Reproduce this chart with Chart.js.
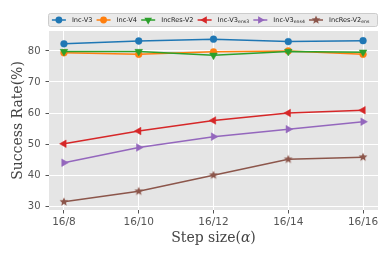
<!DOCTYPE html>
<html>
<head>
<meta charset="utf-8">
<script src="https://cdn.jsdelivr.net/npm/chart.js@4.4.1/dist/chart.umd.min.js"></script>
<style>
  html, body { margin: 0; padding: 0; background: #fff; }
</style>
</head>
<body>
<canvas id="stepChart" width="390" height="260"></canvas>
<script>
// step sizes on the x axis
const steps = ['16/8', '16/10', '16/12', '16/14', '16/16'];

// success rates (%)
const incV3 = [82.3, 83.2, 83.8, 83.0, 83.3];
const incV4 = [79.4, 78.9, 79.7, 80.0, 78.9];
const incResV2 = [79.8, 79.8, 78.6, 79.8, 79.6];
const incV3ens3 = [50.1, 54.2, 57.6, 60.0, 60.9];
const incV3ens4 = [44.0, 48.9, 52.4, 54.8, 57.2];
const incResV2ens = [31.4, 34.8, 40.0, 45.1, 45.8];

const yTicks = [30, 40, 50, 60, 70, 80];

// legend text: name + subscript
const seriesNames = ['Inc-V3', 'Inc-V4', 'IncRes-V2', 'Inc-V3', 'Inc-V3', 'IncRes-V2'];
const seriesSubs = ['', '', '', 'ens3', 'ens4', 'ens'];

const colors = ['#1f77b4', '#ff7f0e', '#2ca02c', '#d62728', '#9467bd', '#8c564b'];

function starImage(color, r) {
  const c = document.createElement('canvas');
  const s = Math.ceil(r * 2 + 2);
  c.width = s;
  c.height = s;
  const g = c.getContext('2d');
  g.fillStyle = color;
  g.beginPath();
  for (let i = 0; i < 10; i++) {
    const rr = i % 2 ? r * 0.45 : r;
    const a = -Math.PI / 2 + i * Math.PI / 5;
    g.lineTo(s / 2 + rr * Math.cos(a), s / 2 + rr * Math.sin(a));
  }
  g.closePath();
  g.fill();
  return c;
}

const star = starImage(colors[5], 4.6);

// marker style per series: [pointStyle, rotation, radius]
const markers = [
  ['circle', 0, 3.4],
  ['circle', 0, 3.4],
  ['triangle', 180, 4.4],
  ['triangle', -90, 4.4],
  ['triangle', 90, 4.4],
  [star, 0, 4.6]
];

const allSeries = [incV3, incV4, incResV2, incV3ens3, incV3ens4, incResV2ens];

// matplotlib-style 5% margins
const allVals = allSeries.flat();
const vMin = Math.min(...allVals), vMax = Math.max(...allVals);
const yPad = (vMax - vMin) * 0.05;
const xPad = (steps.length - 1) * 0.05;

const datasets = allSeries.map((vals, i) => ({
  label: seriesNames[i] + seriesSubs[i],
  data: vals.map((v, j) => ({ x: j, y: v })),
  borderColor: colors[i],
  backgroundColor: colors[i],
  borderWidth: 1.5,
  tension: 0,
  fill: false,
  pointStyle: markers[i][0],
  rotation: markers[i][1],
  pointRadius: markers[i][2],
  pointBackgroundColor: colors[i],
  pointBorderColor: colors[i],
  pointBorderWidth: 0.5,
  order: allSeries.length - i
}));

function drawMarker(ctx, i, x, y) {
  const [style, rot, r] = markers[i];
  ctx.fillStyle = colors[i];
  if (style === 'circle') {
    ctx.beginPath();
    ctx.arc(x, y, r, 0, Math.PI * 2);
    ctx.fill();
  } else if (style === 'triangle') {
    ctx.save();
    ctx.translate(x, y);
    ctx.rotate(rot * Math.PI / 180);
    ctx.beginPath();
    for (let k = 0; k < 3; k++) {
      const a = -Math.PI / 2 + k * 2 * Math.PI / 3;
      ctx.lineTo(r * Math.cos(a), r * Math.sin(a));
    }
    ctx.closePath();
    ctx.fill();
    ctx.restore();
  } else {
    ctx.drawImage(style, x - style.width / 2, y - style.height / 2);
  }
}

const panelBg = {
  id: 'panelBg',
  beforeDraw(chart) {
    const { ctx, chartArea: a } = chart;
    ctx.save();
    ctx.fillStyle = '#E5E5E5';
    ctx.fillRect(a.left, a.top, a.right - a.left, a.bottom - a.top);
    ctx.restore();
  }
};

// x title with an italic alpha, like matplotlib mathtext
const xTitle = {
  id: 'xTitle',
  afterDraw(chart) {
    const ctx = chart.ctx;
    const a = chart.chartArea;
    const parts = [['Step size(', ''], ['α', 'italic '], [')', '']];
    ctx.save();
    ctx.fillStyle = '#444';
    ctx.textBaseline = 'alphabetic';
    ctx.textAlign = 'left';
    let total = 0;
    for (const [t, st] of parts) {
      ctx.font = st + '14px "DejaVu Serif"';
      total += ctx.measureText(t).width;
    }
    let x = (a.left + a.right) / 2 - total / 2;
    for (const [t, st] of parts) {
      ctx.font = st + '14px "DejaVu Serif"';
      ctx.fillText(t, x, 241.5);
      x += ctx.measureText(t).width;
    }
    ctx.restore();
  }
};

const topLegend = {
  id: 'topLegend',
  afterDraw(chart) {
    const ctx = chart.ctx;
    const a = chart.chartArea;
    const boxL = a.left - 0.5, boxR = a.right - 0.5, boxT = 13.5, boxB = 26.5;
    const midY = (boxT + boxB) / 2;
    ctx.save();
    ctx.fillStyle = '#EAEAEA';
    ctx.strokeStyle = '#CCCCCC';
    ctx.lineWidth = 1;
    ctx.beginPath();
    ctx.roundRect(boxL, boxT, boxR - boxL, boxB - boxT, 2);
    ctx.fill();
    ctx.stroke();

    const mainFont = '6.6px "DejaVu Sans"';
    const subFont = '4.6px "DejaVu Sans"';
    let x = boxL + 3.4;
    ctx.textBaseline = 'middle';
    ctx.textAlign = 'left';
    for (let i = 0; i < seriesNames.length; i++) {
      ctx.strokeStyle = colors[i];
      ctx.lineWidth = 1.5;
      ctx.beginPath();
      ctx.moveTo(x, midY);
      ctx.lineTo(x + 14, midY);
      ctx.stroke();
      drawMarker(ctx, i, x + 7, midY);
      const tx = x + 20;
      ctx.fillStyle = '#222';
      ctx.font = mainFont;
      ctx.fillText(seriesNames[i], tx, midY);
      let w = ctx.measureText(seriesNames[i]).width;
      if (seriesSubs[i]) {
        ctx.font = subFont;
        ctx.fillText(seriesSubs[i], tx + w, midY + 2);
        w += ctx.measureText(seriesSubs[i]).width;
      }
      x = tx + w + 4.2;
    }
    ctx.restore();
  }
};

const chart = new Chart(document.getElementById('stepChart').getContext('2d'), {
  type: 'line',
  data: { datasets },
  options: {
    responsive: false,
    animation: false,
    layout: { padding: { top: 31, right: 12, left: 0, bottom: 0 } },
    plugins: { legend: { display: false }, tooltip: { enabled: false } },
    scales: {
      x: {
        type: 'linear',
        min: -xPad,
        max: steps.length - 1 + xPad,
        afterFit(s) { s.height = 50; },
        afterBuildTicks(s) { s.ticks = steps.map((_, i) => ({ value: i })); },
        ticks: {
          callback: v => steps[v],
          color: '#555',
          font: { family: 'DejaVu Sans', size: 10.5 },
          padding: 2,
          maxRotation: 0,
          autoSkip: false
        },
        grid: { color: '#FFFFFF', lineWidth: 1, tickColor: '#555', tickLength: 3.5, tickWidth: 1 },
        border: { display: false },
        title: { display: false }
      },
      y: {
        min: vMin - yPad,
        max: vMax + yPad,
        afterFit(s) { s.width = 49; },
        afterBuildTicks(s) { s.ticks = yTicks.map(v => ({ value: v })); },
        ticks: {
          color: '#555',
          font: { family: 'DejaVu Sans', size: 10 },
          padding: 5
        },
        grid: { color: '#FFFFFF', lineWidth: 1, tickColor: '#555', tickLength: 3.5, tickWidth: 1 },
        border: { display: false },
        title: {
          display: true,
          text: 'Success Rate(%)',
          color: '#444',
          font: { family: 'DejaVu Serif', size: 14 },
          padding: { top: 10, bottom: 0 }
        }
      }
    }
  },
  plugins: [panelBg, topLegend, xTitle]
});
</script>
</body>
</html>
